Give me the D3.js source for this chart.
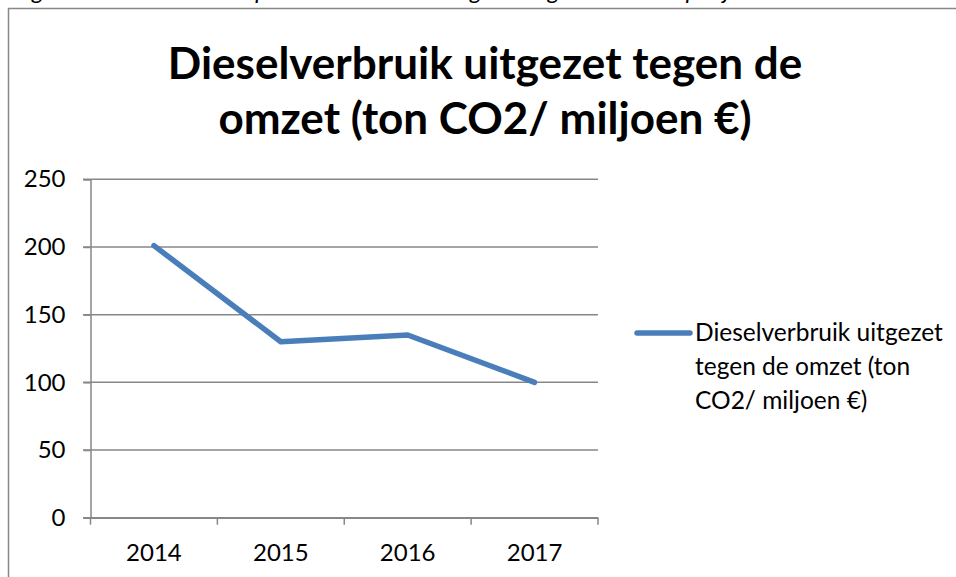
<!DOCTYPE html>
<html>
<head>
<meta charset="utf-8">
<script src="https://cdn.jsdelivr.net/npm/d3@7"></script>
<style>
  html, body { margin: 0; padding: 0; background: #fff; }
  svg { display: block; }
</style>
</head>
<body>
<svg id="chart" width="956" height="577"></svg>
<script>
// ---- data ----
const categories = ["2014", "2015", "2016", "2017"];
const values = [201, 130, 135, 100];
const yTicks = [0, 50, 100, 150, 200, 250];
const titleLines = ["Dieselverbruik uitgezet tegen de", "omzet (ton CO2/ miljoen €)"];
const legendLines = ["Dieselverbruik uitgezet", "tegen de omzet (ton", "CO2/ miljoen €)"];
const captionText = "Figuur 4: Dieselverbruik per eenheid omzet uitgezet tegen de omzet per jaar";

const svg = d3.select("#chart");
const FONT = "Lato, 'Open Sans', sans-serif";
const GRID = "#878787";
const BLUE = "#4a7ebb";

// clipped caption at the very top (only its lower part visible, as in the source)
svg.append("text")
  .attr("x", 14).attr("y", -1)
  .attr("font-family", FONT).attr("font-style", "italic")
  .attr("font-size", 24).attr("fill", "#000")
  .text(captionText);

// chart frame (extends beyond the window)
svg.append("rect")
  .attr("x", 8.5).attr("y", 8.5)
  .attr("width", 1000).attr("height", 700)
  .attr("fill", "#fff").attr("stroke", GRID).attr("stroke-width", 1.5);

// title
const title = svg.append("text")
  .attr("font-family", FONT).attr("font-weight", "bold")
  .attr("font-size", 44).attr("text-anchor", "middle").attr("fill", "#000");
titleLines.forEach((t, i) => {
  title.append("tspan").attr("x", 485).attr("y", 79 + i * 55).text(t);
});

// scales
const x = d3.scaleBand().domain(categories).range([90.5, 598]);
const y = d3.scaleLinear().domain([0, 250]).range([517.7, 179.3]);

// gridlines
svg.append("g").selectAll("line").data(yTicks).join("line")
  .attr("x1", 83).attr("x2", 598)
  .attr("y1", d => y(d)).attr("y2", d => y(d))
  .attr("stroke", GRID).attr("stroke-width", 1.5);

// y axis
const yAxis = svg.append("g").attr("transform", "translate(90.5,0)")
  .call(d3.axisLeft(y).tickValues(yTicks).tickSize(7).tickPadding(18));
yAxis.select(".domain").attr("stroke", GRID).attr("stroke-width", 1.5);
yAxis.selectAll(".tick line").attr("stroke", GRID).attr("stroke-width", 1.5);
yAxis.selectAll(".tick text").attr("font-family", FONT).attr("font-size", 24).attr("fill", "#000");

// x axis
const xAxis = svg.append("g").attr("transform", "translate(0," + y(0) + ")")
  .call(d3.axisBottom(x).tickSize(0).tickPadding(26));
xAxis.select(".domain").attr("stroke", GRID).attr("stroke-width", 1.5);
xAxis.selectAll(".tick text").attr("font-family", FONT).attr("font-size", 24).attr("fill", "#000");
// x ticks at band edges
const edges = categories.map(c => x(c)).concat([x.range()[1]]);
svg.append("g").selectAll("line").data(edges).join("line")
  .attr("x1", d => d).attr("x2", d => d)
  .attr("y1", y(0)).attr("y2", y(0) + 7)
  .attr("stroke", GRID).attr("stroke-width", 1.5);

// series line
const line = d3.line()
  .x((d, i) => x(categories[i]) + x.bandwidth() / 2)
  .y(d => y(d));
svg.append("path").datum(values)
  .attr("d", line)
  .attr("fill", "none").attr("stroke", BLUE)
  .attr("stroke-width", 5.5).attr("stroke-linecap", "round").attr("stroke-linejoin", "round");

// legend
svg.append("line")
  .attr("x1", 637).attr("x2", 690).attr("y1", 333).attr("y2", 333)
  .attr("stroke", BLUE).attr("stroke-width", 5.5).attr("stroke-linecap", "round");
const leg = svg.append("text").attr("font-family", FONT).attr("font-size", 24.5).attr("fill", "#000");
legendLines.forEach((t, i) => {
  leg.append("tspan").attr("x", 695).attr("y", 341 + i * 34).text(t);
});
</script>
</body>
</html>
